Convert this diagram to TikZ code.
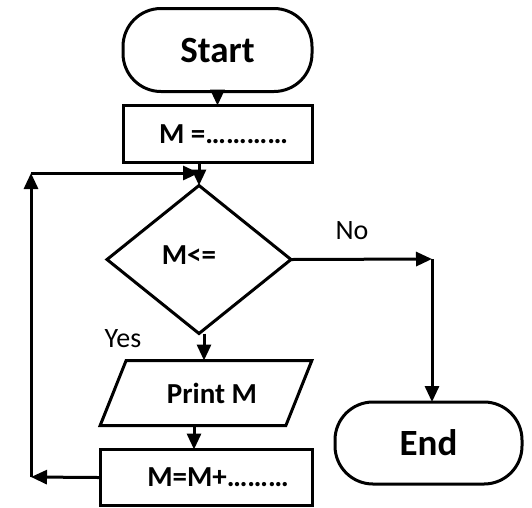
\documentclass[tikz,border=0pt]{standalone}
\usepackage{fontspec}
\setmainfont{Carlito}
\usetikzlibrary{positioning,shapes.geometric,arrows.meta}

\begin{document}
\begin{tikzpicture}[x=1pt,y=-1pt,line width=3pt,outer sep=0pt,
    term/.style={draw,rectangle,rounded corners=38pt,minimum width=189pt,minimum height=83pt,font=\fontsize{37}{40}\selectfont\bfseries},
    proc/.style={draw,rectangle,minimum width=189pt,minimum height=57pt,font=\fontsize{29}{32}\selectfont\bfseries},
    cond/.style={draw,diamond,inner sep=0pt,minimum width=184pt,minimum height=148pt,font=\fontsize{29}{32}\selectfont\bfseries},
    io/.style={draw,trapezium,trapezium left angle=57,trapezium right angle=123,trapezium stretches=true,minimum width=212pt,minimum height=65pt,font=\fontsize{29}{32}\selectfont\bfseries},
    tag/.style={font=\fontsize{28}{30}\selectfont},
    arr/.style={-{Triangle[length=16pt,width=14pt]}}]
  \useasboundingbox (0,0) rectangle (532,507);

  \node[term] (start) at (217.5,50) {Start};
  \node[proc, below=14pt of start] (init) {\hspace*{12pt}M =…………};
  \node[cond, below=23pt of init, xshift=-18.5pt] (test) {\raisebox{9pt}{M<=}\hspace*{20pt}};
  \node[io, below=27pt of test, xshift=7pt] (print) {\hspace*{12pt}Print M};
  \node[proc, below=24pt of print, minimum width=212pt, minimum height=56pt] (incr) {\hspace*{24pt}M=M+………};
  \node[term, minimum width=187pt, minimum height=82pt] (stop) at (428.5,443) {End};
  \node[tag] (no) at (352,231) {No};
  \node[tag] (yes) at (123,339) {Yes};

  \coordinate (back) at (31,477);
  \coordinate (up) at (31,173);
  \coordinate (turn) at (432,259);

  \draw[arr] (start) -- (init);
  \draw[arr] (init.south -| test.north) -- (test.north);
  \draw[arr] (test.east) -- (turn);
  \draw[arr] (turn) -- (turn |- stop.north);
  \draw[arr] ([xshift=5pt]test.south) -- ([xshift=5pt]test.south |- print.north);
  \draw[arr] ([xshift=-12pt]print.south) -- ([xshift=-12pt]incr.north);
  \draw[arr] (incr.west) -- (back);
  \draw[arr] (back) -- (up);
  \draw[arr] (up) -- (up -| test.north);
\end{tikzpicture}
\end{document}
